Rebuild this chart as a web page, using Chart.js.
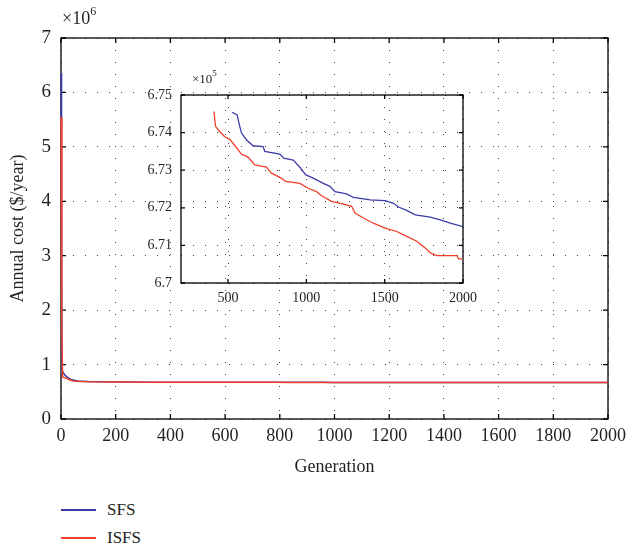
<!DOCTYPE html>
<html>
<head>
<meta charset="utf-8">
<script src="https://cdn.jsdelivr.net/npm/chart.js@4"></script>
<style>
  body { margin: 0; background: #fff; font-family: "Liberation Serif", serif; color: #231f20; }
  #wrap { position: relative; width: 629px; height: 545px; overflow: hidden; }
  canvas { position: absolute; }
  #mainChart { left: 0; top: 0; }
  #insetChart { left: 130px; top: 70px; }
  .mult { position: absolute; white-space: nowrap; }
  .mult sup { position: relative; top: -2px; }
  .leg { position: absolute; left: 61px; width: 35px; height: 2px; }
  .legText { position: absolute; left: 107px; font-size: 17px; line-height: 20px; }
</style>
</head>
<body>
<div id="wrap">
  <canvas id="mainChart" width="629" height="480"></canvas>
  <canvas id="insetChart" width="365" height="245"></canvas>
  <div class="mult" style="left:62px;top:6px;font-size:18px;">×10<sup style="font-size:12px;">6</sup></div>
  <div class="mult" style="left:192px;top:70px;font-size:13px;">×10<sup style="font-size:9px;">5</sup></div>
  <div class="leg" style="top:509px;background:#3c3ca8;"></div>
  <div class="legText" style="top:500px;">SFS</div>
  <div class="leg" style="top:537px;background:#f0402a;"></div>
  <div class="legText" style="top:528px;">ISFS</div>
</div>
<script>
/* SFS vs ISFS — annual cost per generation */

const BLUE = '#3c3ca8', RED = '#f0402a';
const FONT = 'Liberation Serif';

// early generations, cost in 10^6 $/year
const sfsEarlyGen  = [0, 2, 4, 7, 15, 25, 40, 60, 100, 200, 350, 480];
const sfsEarlyCost = [6.35, 3.0, 0.88, 0.86, 0.80, 0.76, 0.72, 0.70, 0.69, 0.681, 0.677, 0.6752];
const isfsEarlyGen  = [0, 3, 6, 12, 20, 30, 45, 70, 100, 200, 300, 390];
const isfsEarlyCost = [5.55, 1.6, 0.77, 0.76, 0.75, 0.72, 0.70, 0.69, 0.684, 0.679, 0.676, 0.6748];

// inset, cost in 10^5 $/year
const sfsGen  = [526, 558, 570, 585, 617, 660, 724, 735, 831, 856, 916, 959, 995, 1044, 1108, 1151, 1183, 1257, 1300, 1407, 1503, 1556, 1588, 1641, 1695, 1791, 1855, 1919, 2000];
const sfsCost = [6.7454, 6.7447, 6.7425, 6.7400, 6.7381, 6.7365, 6.7363, 6.7350, 6.7343, 6.7332, 6.7327, 6.7308, 6.7288, 6.7279, 6.7265, 6.7257, 6.7243, 6.7237, 6.7228, 6.7221, 6.7219, 6.7212, 6.7202, 6.7193, 6.7181, 6.7175, 6.7168, 6.7159, 6.7150];
const isfsGen  = [410, 421, 447, 479, 511, 549, 585, 628, 671, 745, 777, 831, 869, 959, 1012, 1065, 1097, 1161, 1225, 1289, 1311, 1364, 1428, 1503, 1577, 1631, 1705, 1759, 1791, 1834, 1962, 1972, 2000];
const isfsCost = [6.7456, 6.7416, 6.7403, 6.7389, 6.7382, 6.7363, 6.7343, 6.7335, 6.7314, 6.7308, 6.7292, 6.7281, 6.7270, 6.7265, 6.7252, 6.7243, 6.7232, 6.7217, 6.7211, 6.7204, 6.7186, 6.7173, 6.7159, 6.7146, 6.7137, 6.7126, 6.7111, 6.7093, 6.7080, 6.7073, 6.7073, 6.7064, 6.7064];

const insetXTicks = [500, 1000, 1500, 2000];

function pts(xs, ys, k) {
  return xs.map((x, i) => ({ x, y: ys[i] * k }));
}

// frame + inward tick marks on all four sides
const boxTicks = {
  id: 'boxTicks',
  beforeDatasetsDraw(chart, args, opts) {
    const { ctx, chartArea: a, scales: { x, y } } = chart;
    const len = opts.len || 5;
    ctx.save();
    ctx.strokeStyle = '#000';
    ctx.lineWidth = opts.width || 1.3;
    ctx.strokeRect(a.left, a.top, a.right - a.left, a.bottom - a.top);
    ctx.beginPath();
    x.ticks.forEach(t => {
      const px = x.getPixelForValue(t.value);
      ctx.moveTo(px, a.bottom); ctx.lineTo(px, a.bottom - len);
      ctx.moveTo(px, a.top); ctx.lineTo(px, a.top + len);
    });
    y.ticks.forEach(t => {
      const py = y.getPixelForValue(t.value);
      ctx.moveTo(a.left, py); ctx.lineTo(a.left + len, py);
      ctx.moveTo(a.right, py); ctx.lineTo(a.right - len, py);
    });
    ctx.stroke();
    ctx.restore();
  }
};

const dotted = { display: false, dash: [1, 11] };
const gridOpts = { color: '#444', lineWidth: 1, drawTicks: false };
const fixX = h => s => { s.height = h; s.paddingLeft = 0; s.paddingRight = 0; };
const fixY = w => s => { s.width = w; s.paddingTop = 0; s.paddingBottom = 0; };
const plain = v => String(v);

new Chart(document.getElementById('mainChart'), {
  type: 'line',
  data: {
    datasets: [
      { label: 'ISFS', data: pts(isfsEarlyGen, isfsEarlyCost, 1).concat(pts(isfsGen, isfsCost, 0.1)),
        borderColor: RED, borderWidth: 1.5, pointRadius: 0, tension: 0, clip: false },
      { label: 'SFS', data: pts(sfsEarlyGen, sfsEarlyCost, 1).concat(pts(sfsGen, sfsCost, 0.1)),
        borderColor: BLUE, borderWidth: 1.5, pointRadius: 0, tension: 0, clip: false }
    ]
  },
  options: {
    responsive: false, animation: false,
    layout: { padding: { left: 0, top: 38, right: 21, bottom: 0 } },
    plugins: { legend: { display: false }, tooltip: { enabled: false }, boxTicks: { len: 5 } },
    scales: {
      x: {
        type: 'linear', min: 0, max: 2000,
        ticks: { stepSize: 200, color: '#231f20', padding: 6, font: { family: FONT, size: 18 }, maxRotation: 0, callback: plain },
        grid: gridOpts, border: dotted,
        title: { display: true, text: 'Generation', color: '#231f20', font: { family: FONT, size: 18 }, padding: { bottom: 2 } },
        afterFit: fixX(61)
      },
      y: {
        min: 0, max: 7,
        ticks: { stepSize: 1, color: '#231f20', padding: 10, font: { family: FONT, size: 19 }, callback: plain },
        grid: gridOpts, border: dotted,
        title: { display: true, text: 'Annual cost ($/year)', color: '#231f20', font: { family: FONT, size: 18 }, padding: { top: 7 } },
        afterFit: fixY(61)
      }
    }
  },
  plugins: [boxTicks]
});

new Chart(document.getElementById('insetChart'), {
  type: 'line',
  data: {
    datasets: [
      { label: 'ISFS', data: pts(isfsGen, isfsCost, 1), borderColor: RED, borderWidth: 1.3, pointRadius: 0, tension: 0 },
      { label: 'SFS', data: pts(sfsGen, sfsCost, 1), borderColor: BLUE, borderWidth: 1.3, pointRadius: 0, tension: 0 }
    ]
  },
  options: {
    responsive: false, animation: false,
    layout: { padding: { left: 0, top: 25, right: 32, bottom: 0 } },
    plugins: { legend: { display: false }, tooltip: { enabled: false }, boxTicks: { len: 4, width: 1.3 } },
    scales: {
      x: {
        type: 'linear', min: 200, max: 2000,
        afterBuildTicks: s => { s.ticks = insetXTicks.map(v => ({ value: v })); },
        ticks: { color: '#231f20', padding: 7, font: { family: FONT, size: 14 }, maxRotation: 0, callback: plain },
        grid: gridOpts, border: dotted,
        afterFit: fixX(32)
      },
      y: {
        min: 6.70, max: 6.75,
        ticks: { stepSize: 0.01, color: '#231f20', padding: 9, font: { family: FONT, size: 14 },
                 callback: v => String(parseFloat(v.toFixed(2))) },
        grid: gridOpts, border: dotted,
        afterFit: fixY(51)
      }
    }
  },
  plugins: [boxTicks]
});
</script>
</body>
</html>
